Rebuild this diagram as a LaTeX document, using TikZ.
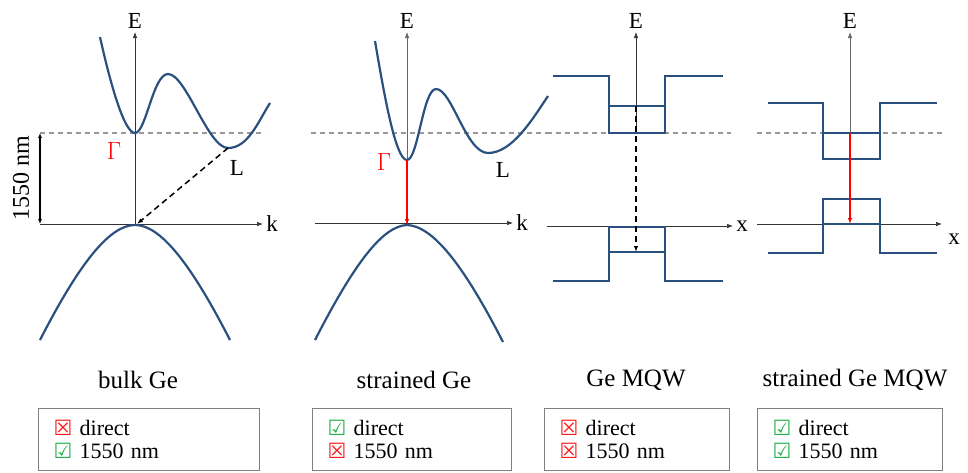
\documentclass[tikz,border=0pt]{standalone}
\usepackage{fontspec}
\setmainfont{Liberation Serif}
\newfontfamily\symfont{DejaVu Sans}
\usetikzlibrary{arrows.meta}
\definecolor{band}{HTML}{2A5080}
\definecolor{okgreen}{HTML}{22B14C}
\definecolor{nored}{HTML}{FF1A1A}
\newcommand{\yes}{{\symfont\fontsize{21}{21}\selectfont\color{okgreen}\char"2611}}
\newcommand{\no}{{\symfont\fontsize{21}{21}\selectfont\color{nored}\char"2612}}

\begin{document}
\begin{tikzpicture}[
  x=1pt,
  y=-1pt,
  bandline/.style={draw=band, line width=2.2pt},
  axis/.style={-{Latex[length=6pt,width=4.5pt]}, line width=0.7pt, draw=black!80},
  fermi/.style={draw=black!40, line width=1.2pt, dash pattern=on 5pt off 4pt},
  direct/.style={-{Latex[length=6pt,width=4.5pt]}, line width=1.5pt, draw=red},
  indirect/.style={-{Latex[length=6pt,width=4.5pt]}, line width=1.5pt, dash pattern=on 6pt off 4pt},
  axlabel/.style={font=\fontsize{23}{23}\selectfont, inner sep=0pt},
  title/.style={font=\fontsize{25}{26}\selectfont},
  checks/.style={draw=black!50, line width=1pt, anchor=north west, minimum height=62pt,
    align=left, font=\fontsize{22}{23}\selectfont, inner xsep=15pt, inner ysep=2pt}
]
  \useasboundingbox (0,0) rectangle (968,472);

  % bulk Ge
  \coordinate (G1) at (135,133);
  \coordinate (L1) at (228,148);
  \coordinate (V1) at (135,225);
  \draw[fermi] (40,133) -- (265,133);
  \draw[axis] (135,225) -- (135,32) node[axlabel, above=3pt] (E1) {E};
  \draw[axis] (40,224) -- (263,224) node[axlabel, right=3pt] (k1) {k};
  \draw[bandline] (100,37) .. controls (110,82) and (124,133) .. (G1)
    .. controls (146,133) and (153,74) .. (168,74)
    .. controls (186,74) and (208,148) .. (L1)
    .. controls (248,148) and (258,122) .. (270,103);
  \draw[bandline] (40,340) .. controls (80,262) and (110,225) .. (V1)
    .. controls (160,225) and (190,262) .. (230,340);
  \draw[{Latex[length=5pt,width=4pt]}-{Latex[length=5pt,width=4pt]}, line width=1.2pt]
    (40,133) -- (40,224);
  \node[rotate=90, font=\fontsize{24}{24}\selectfont] (gap1) at (21,178) {1550 nm};
  \node[axlabel, text=red] (gam1) at (114,151) {$\Gamma$};
  \node[axlabel] (lab1) at (237,168) {L};
  \draw[indirect] (L1) -- (137,224);

  % strained Ge
  \coordinate (G2) at (407,160);
  \coordinate (L2) at (488,153);
  \coordinate (V2) at (407,225);
  \draw[fermi] (311,133) -- (548,133);
  \draw[axis, draw=black!60] (407,225) -- (407,32) node[axlabel, above=3pt] (E2) {E};
  \draw[axis] (315,223) -- (513,223) node[axlabel, right=3pt] (k2) {k};
  \draw[bandline] (375,41) .. controls (385,100) and (396,160) .. (G2)
    .. controls (418,160) and (423,89) .. (436,89)
    .. controls (452,89) and (466,153) .. (L2)
    .. controls (512,153) and (532,120) .. (548,96);
  \draw[bandline] (315,340) .. controls (355,262) and (383,226) .. (V2)
    .. controls (432,226) and (462,262) .. (503,342);
  \node[axlabel, text=red] (gam2) at (384,162) {$\Gamma$};
  \node[axlabel] (lab2) at (503,170) {L};
  \draw[direct] (G2) -- (V2);

  % Ge MQW
  \coordinate (C3) at (636,106);
  \coordinate (V3) at (636,252);
  \draw[fermi] (547,133) -- (731,133);
  \draw[axis] (636,133) -- (636,32) node[axlabel, above=3pt] (E3) {E};
  \draw[axis] (547,226) -- (733,226) node[axlabel, right=3pt] (x3) {x};
  \draw[bandline] (553,76) -| (609,133) -| (665,76) -- (723,76);
  \draw[bandline] (609,106) -- (665,106);
  \draw[bandline] (553,281) -| (609,227) -| (665,281) -- (723,281);
  \draw[bandline] (609,252) -- (665,252);
  \draw[indirect] (C3) -- (V3);

  % strained Ge MQW
  \coordinate (C4) at (850,133);
  \coordinate (V4) at (850,224);
  \draw[fermi] (757,133) -- (942,133);
  \draw[axis, draw=black!60] (850,133) -- (850,32) node[axlabel, above=3pt] (E4) {E};
  \draw[axis] (757,224) -- (942,224);
  \node[axlabel] (x4) at (954,239) {x};
  \draw[bandline] (768,103) -| (823,159) -| (880,103) -- (937,103);
  \draw[bandline] (823,133) -- (880,133);
  \draw[bandline] (768,253) -| (823,199) -| (880,253) -- (937,253);
  \draw[bandline] (823,224) -- (880,224);
  \draw[direct] (C4) -- (V4);

  % titles and check boxes
  \node[title] (t1) at (138,380) {bulk Ge};
  \node[title] (t2) at (414,380) {strained Ge};
  \node[title] (t3) at (636,380) {Ge MQW};
  \node[title] (t4) at (855,380) {strained Ge MQW};

  \node[checks, minimum width=221pt, text width=191pt] (c1) at (38,408) {\no\ direct\\\yes\ 1550 nm};
  \node[checks, minimum width=199pt, text width=169pt] (c2) at (312,408) {\yes\ direct\\\no\ 1550 nm};
  \node[checks, minimum width=185pt, text width=155pt] (c3) at (544,408) {\no\ direct\\\no\ 1550 nm};
  \node[checks, minimum width=185pt, text width=155pt] (c4) at (757,408) {\yes\ direct\\\yes\ 1550 nm};
\end{tikzpicture}
\end{document}
